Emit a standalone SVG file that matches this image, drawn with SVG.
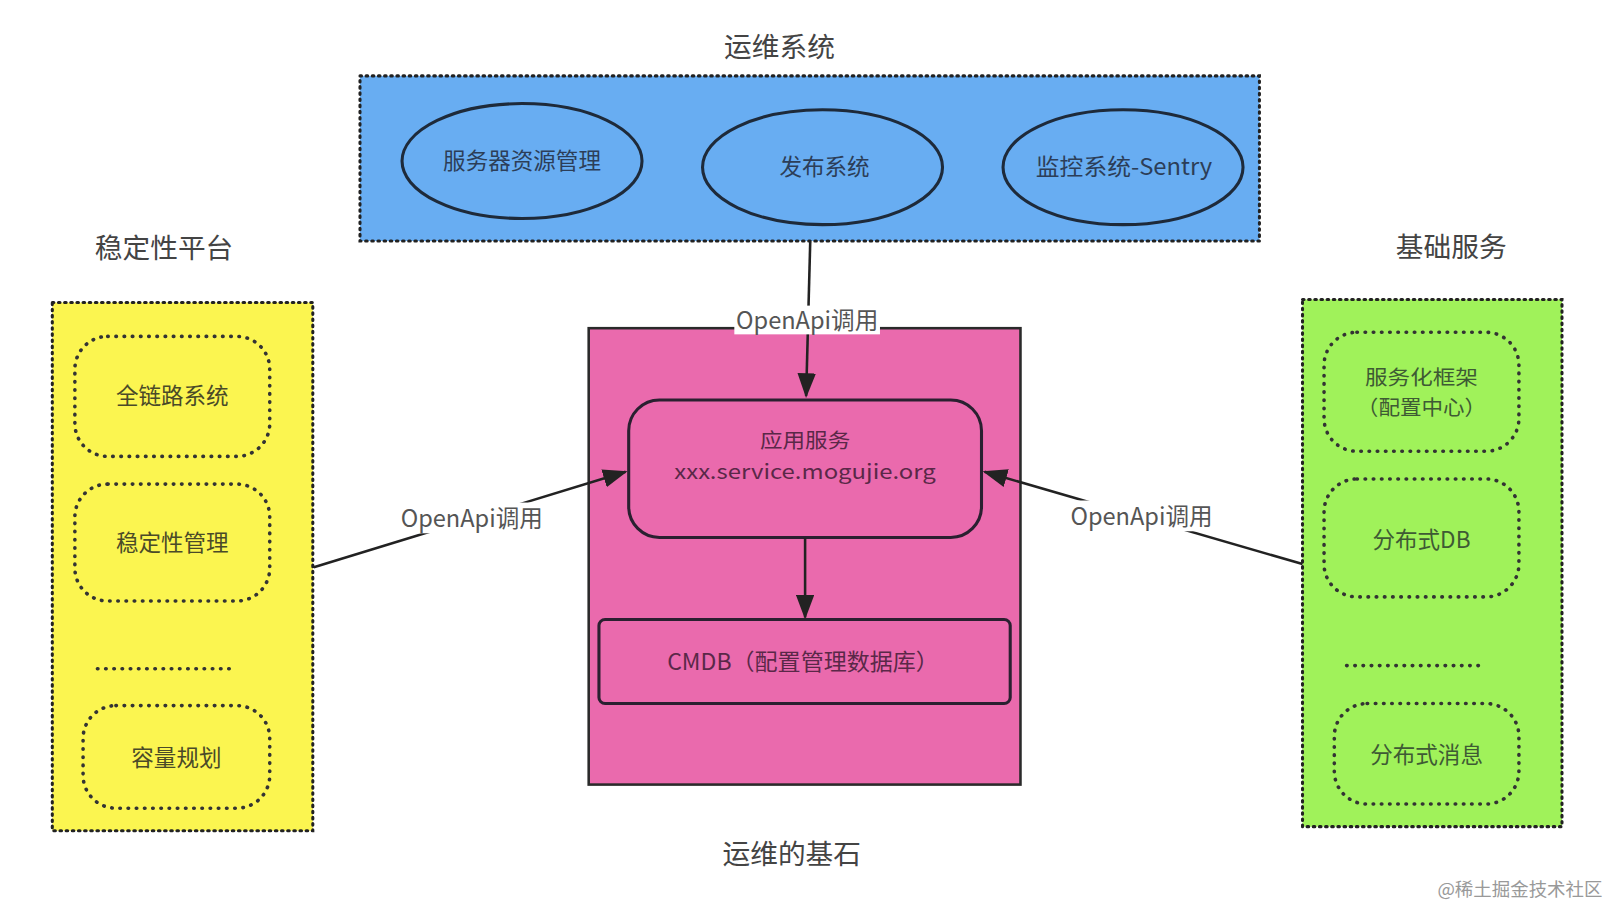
<svg xmlns="http://www.w3.org/2000/svg" width="1604" height="904" viewBox="0 0 1604 904">
<style>
.t{font-family:"Noto Sans CJK SC","Noto Sans",sans-serif;fill:#3a3a3a;text-anchor:middle}
.title{font-size:27px;fill:#444}
.n{font-size:22px}
.n2{font-size:20px}
.bl{fill:#2c3e58}
.pk{fill:#5a2848}
.yl{fill:#4a4a28}
.gr{fill:#3e5a34}
.lbl{font-size:23px;fill:#555}
.dot{fill:none;stroke:#222;stroke-width:3;stroke-dasharray:1.5 4.5;stroke-linecap:round}
.inner{fill:none;stroke:#333;stroke-width:3.5;stroke-dasharray:0.5 7.5;stroke-linecap:round}
.ell{fill:#68adf2;stroke:#1e2a3a;stroke-width:3}
.edge{fill:none;stroke:#222;stroke-width:2.5}
</style>
<defs>
<marker id="ah" markerUnits="userSpaceOnUse" markerWidth="24" markerHeight="18" refX="22" refY="9" orient="auto">
<path d="M0,0 L24,9 L0,18 Z" fill="#222"/>
</marker>
</defs>
<rect width="1604" height="904" fill="#ffffff"/>
<g transform="scale(1.0256)">

<g id="ops-system">
<rect x="351" y="74" width="877" height="161" fill="#68adf2"/>
<rect x="351" y="74" width="877" height="161" class="dot"/>
<text class="t title" x="760" y="56">运维系统</text>
</g>
<g id="server-res">
<ellipse cx="509" cy="157" rx="117" ry="56" class="ell"/>
<text class="t n bl" x="509" y="165">服务器资源管理</text>
</g>
<g id="release">
<ellipse cx="802" cy="163" rx="117" ry="56" class="ell"/>
<text class="t n bl" x="804" y="171">发布系统</text>
</g>
<g id="monitor">
<ellipse cx="1095" cy="163" rx="117" ry="56" class="ell"/>
<text class="t n bl" x="1096" y="171" textLength="172" lengthAdjust="spacingAndGlyphs">监控系统-Sentry</text>
</g>

<g id="stability">
<rect x="51" y="295" width="254" height="515" fill="#fbf550"/>
<rect x="51" y="295" width="254" height="515" class="dot"/>
<text class="t title" x="160" y="252">稳定性平台</text>
<line x1="95" y1="652" x2="228" y2="652" class="inner"/>
</g>
<g id="fulllink">
<rect x="73" y="328" width="190" height="117" rx="32" class="inner"/>
<text class="t n yl" x="168" y="394">全链路系统</text>
</g>
<g id="stab-mgmt">
<rect x="73" y="472" width="190" height="114" rx="32" class="inner"/>
<text class="t n yl" x="168" y="537">稳定性管理</text>
</g>
<g id="capacity">
<rect x="81" y="688" width="182" height="100" rx="32" class="inner"/>
<text class="t n yl" x="172" y="747">容量规划</text>
</g>

<g id="basic">
<rect x="1270" y="292" width="253" height="514" fill="#a0f25a"/>
<rect x="1270" y="292" width="253" height="514" class="dot"/>
<text class="t title" x="1415" y="251">基础服务</text>
<line x1="1313" y1="649" x2="1445" y2="649" class="inner"/>
</g>
<g id="framework">
<rect x="1291" y="324" width="190" height="116" rx="32" class="inner"/>
<text class="t n2 gr" x="1386" y="375" textLength="110" lengthAdjust="spacingAndGlyphs">服务化框架</text>
<text class="t n2 gr" x="1386" y="405" textLength="126" lengthAdjust="spacingAndGlyphs">（配置中心）</text>
</g>
<g id="dist-db">
<rect x="1291" y="467" width="190" height="115" rx="32" class="inner"/>
<text class="t n gr" x="1386" y="534">分布式DB</text>
</g>
<g id="dist-msg">
<rect x="1301" y="686" width="180" height="98" rx="32" class="inner"/>
<text class="t n gr" x="1391" y="744">分布式消息</text>
</g>

<g id="foundation">
<rect x="574" y="320" width="421" height="445" fill="#ea6aad" stroke="#2a2a2a" stroke-width="2.5"/>
<text class="t title" x="772" y="842">运维的基石</text>
</g>
<g id="app">
<rect x="613" y="390" width="344" height="134" rx="30" fill="#ea6aad" stroke="#2a2030" stroke-width="3"/>
<text class="t n2 pk" x="785" y="437" textLength="88" lengthAdjust="spacingAndGlyphs">应用服务</text>
<text class="t n2 pk" x="785" y="467" textLength="255" lengthAdjust="spacingAndGlyphs">xxx.service.mogujie.org</text>
</g>
<g id="cmdb">
<rect x="584" y="604" width="401" height="82" rx="6" fill="#ea6aad" stroke="#2a2030" stroke-width="3"/>
<text class="t n pk" x="783" y="653" textLength="265" lengthAdjust="spacingAndGlyphs">CMDB（配置管理数据库）</text>
</g>

<g id="connectors">
<line x1="790" y1="236" x2="786" y2="386" class="edge" marker-end="url(#ah)"/>
<rect x="716" y="298" width="142" height="28" fill="#ffffff"/>
<text class="t lbl" x="787" y="321">OpenApi调用</text>
<line x1="785" y1="525" x2="785" y2="602" class="edge" marker-end="url(#ah)"/>
<line x1="306" y1="553" x2="610" y2="460" class="edge" marker-end="url(#ah)"/>
<rect x="388" y="490" width="144" height="30" fill="#ffffff"/>
<text class="t lbl" x="460" y="514">OpenApi调用</text>
<line x1="1270" y1="550" x2="960" y2="460" class="edge" marker-end="url(#ah)"/>
<rect x="1042" y="488" width="144" height="30" fill="#ffffff"/>
<text class="t lbl" x="1113" y="512">OpenApi调用</text>
</g>

<text x="1482" y="874" style="font-family:'Noto Sans CJK SC',sans-serif;font-size:18px;fill:#999;text-anchor:middle">@稀土掘金技术社区</text>
</g>
</svg>
